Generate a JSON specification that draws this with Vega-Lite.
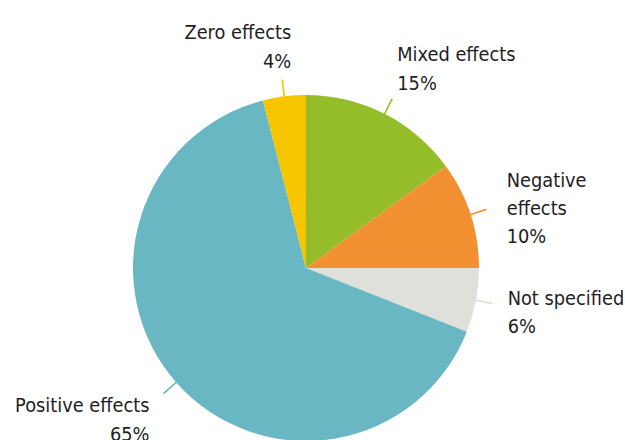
{
  "$schema": "https://vega.github.io/schema/vega-lite/v6.json",
  "width": 612,
  "height": 536,
  "autosize": {"type": "none"},
  "padding": {"left": 0, "top": 0, "right": 13, "bottom": 0},
  "background": "white",
  "config": {"view": {"stroke": null}, "text": {"font": "'DejaVu Sans Condensed', 'Roboto Condensed', 'Liberation Sans Narrow', Roboto, sans-serif"}},
  "data": {
    "values": [
      {"category": "Mixed effects", "label": "Mixed effects\n15%", "value": 15, "order": 1},
      {"category": "Negative effects", "label": "Negative\neffects\n10%", "value": 10, "order": 2},
      {"category": "Not specified", "label": "Not specified\n6%", "value": 6, "order": 3},
      {"category": "Positive effects", "label": "Positive effects\n65%", "value": 65, "order": 4},
      {"category": "Zero effects", "label": "Zero effects\n4%", "value": 4, "order": 5}
    ]
  },
  "transform": [
    {"joinaggregate": [{"op": "sum", "field": "value", "as": "total"}]},
    {"stack": "value", "groupby": [], "sort": [{"field": "order", "order": "ascending"}], "as": ["s0", "s1"]},
    {"calculate": "datum.s0 / datum.total * 2 * PI", "as": "a0"},
    {"calculate": "datum.s1 / datum.total * 2 * PI", "as": "a1"},
    {"calculate": "(datum.a0 + datum.a1) / 2", "as": "mid"},
    {"calculate": "datum.mid - 0.0045", "as": "ta"},
    {"calculate": "datum.mid + 0.0045", "as": "tb"}
  ],
  "encoding": {
    "color": {
      "field": "category",
      "type": "nominal",
      "scale": {
        "domain": ["Mixed effects", "Negative effects", "Not specified", "Positive effects", "Zero effects"],
        "range": ["#95bd2a", "#f28f31", "#e0e0db", "#6ab7c4", "#f5c500"]
      },
      "legend": null
    }
  },
  "layer": [
    {
      "mark": {"type": "arc", "radius": 173},
      "encoding": {
        "theta": {"field": "a0", "type": "quantitative", "scale": null},
        "theta2": {"field": "a1"}
      }
    },
    {
      "mark": {"type": "arc", "radius": 190, "radius2": 170},
      "encoding": {
        "theta": {"field": "ta", "type": "quantitative", "scale": null},
        "theta2": {"field": "tb"}
      }
    },
    {
      "transform": [{"filter": "datum.category == 'Zero effects'"}],
      "mark": {"type": "text", "radius": 190, "align": "right", "baseline": "alphabetic", "dx": 9, "dy": -40, "lineBreak": "\n", "lineHeight": 29, "fontSize": 19.8},
      "encoding": {"theta": {"field": "mid", "type": "quantitative", "scale": null}, "text": {"field": "label"}, "color": {"value": "#1e1e1e"}}
    },
    {
      "transform": [{"filter": "datum.category == 'Mixed effects'"}],
      "mark": {"type": "text", "radius": 190, "align": "left", "baseline": "alphabetic", "dx": 5, "dy": -38, "lineBreak": "\n", "lineHeight": 29, "fontSize": 19.8},
      "encoding": {"theta": {"field": "mid", "type": "quantitative", "scale": null}, "text": {"field": "label"}, "color": {"value": "#1e1e1e"}}
    },
    {
      "transform": [{"filter": "datum.category == 'Negative effects'"}],
      "mark": {"type": "text", "radius": 190, "align": "left", "baseline": "alphabetic", "dx": 20, "dy": -22, "lineBreak": "\n", "lineHeight": 28, "fontSize": 19.8},
      "encoding": {"theta": {"field": "mid", "type": "quantitative", "scale": null}, "text": {"field": "label"}, "color": {"value": "#1e1e1e"}}
    },
    {
      "transform": [{"filter": "datum.category == 'Not specified'"}],
      "mark": {"type": "text", "radius": 190, "align": "left", "baseline": "alphabetic", "dx": 15, "dy": 1.5, "lineBreak": "\n", "lineHeight": 28, "fontSize": 19.8},
      "encoding": {"theta": {"field": "mid", "type": "quantitative", "scale": null}, "text": {"field": "label"}, "color": {"value": "#1e1e1e"}}
    },
    {
      "transform": [{"filter": "datum.category == 'Positive effects'"}],
      "mark": {"type": "text", "radius": 190, "align": "right", "baseline": "alphabetic", "dx": -14, "dy": 18.5, "lineBreak": "\n", "lineHeight": 29, "fontSize": 19.8},
      "encoding": {"theta": {"field": "mid", "type": "quantitative", "scale": null}, "text": {"field": "label"}, "color": {"value": "#1e1e1e"}}
    }
  ]
}
